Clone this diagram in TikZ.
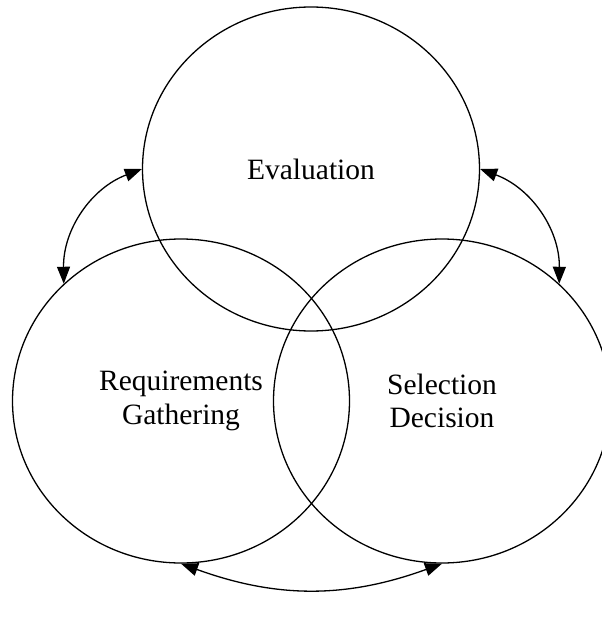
\documentclass[tikz,border=0pt]{standalone}
\usepackage{fontspec}
\setmainfont{Liberation Serif}
\usepackage{tikz}
\usetikzlibrary{arrows.meta,shapes.geometric,positioning}
\tikzset{>={Triangle[length=17pt,width=13pt]}}

\begin{document}
\begin{tikzpicture}
	[x=1pt, y=-1pt, ellipse, inner sep=0pt, minimum width=337pt, minimum height=324pt,
	phase/.style={draw, line width=1.3pt, align=center, font=\fontsize{29.5}{33.5}\selectfont},
	link/.style={{Triangle[length=17pt,width=13pt]}-{Triangle[length=17pt,width=13pt]}, line width=1.3pt}]
	
	\useasboundingbox (0,0) rectangle (602,621);
	
	\node[phase] (evaluation)   at (311,169) {Evaluation};
	\node[phase] (requirements) at (181,401) {Requirements\\Gathering};
	\node[phase] (selection)    at (442,401) {Selection\\Decision};
	
	
	\draw [link] (evaluation.west)   to [bend right=35] (requirements.135);
	\draw [link] (evaluation.east)   to [bend left=35]  (selection.45);
	\draw [link] (requirements.south) to [bend right=20] (selection.south);
\end{tikzpicture}
\end{document}
